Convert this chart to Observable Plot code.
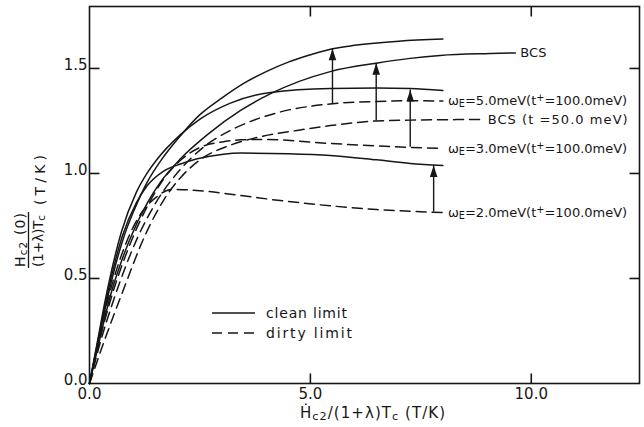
<!DOCTYPE html>
<html><head><meta charset="utf-8">
<script src="https://cdn.jsdelivr.net/npm/d3@7"></script>
<script src="https://cdn.jsdelivr.net/npm/@observablehq/plot@0.6"></script>
<style>
body{margin:0;background:#fff}
#chart{position:relative;width:644px;height:427px}
</style>
</head><body><div id="chart"></div>
<script>
// ---- data ----
const clean5X = [0,0.2,0.4,0.78,1.0,1.31,1.61,2.06,2.5,3.0,3.5,4.0,4.5,5.0,5.5,6.0,7.0,8.0];
const clean5Y = [0,0.2,0.4,0.70,0.82,0.96,1.06,1.18,1.28,1.36,1.43,1.485,1.53,1.565,1.594,1.61,1.63,1.64];
const cleanBCSX = [0,0.22,0.45,0.9,1.31,1.61,2.06,2.67,3.42,4.1,5.45,6.49,7.26,7.94,9.07,9.64];
const cleanBCSY = [0,0.2,0.4,0.68,0.86,0.96,1.07,1.185,1.30,1.38,1.485,1.525,1.548,1.562,1.571,1.574];
const clean3X = [0,0.18,0.36,0.72,1.06,1.3,1.54,2.06,2.51,3.19,4.1,5.45,6.5,7.26,8.0];
const clean3Y = [0,0.2,0.4,0.72,0.91,1.0,1.07,1.185,1.26,1.335,1.386,1.405,1.407,1.405,1.395];
const clean2X = [0,0.19,0.38,0.74,1.06,1.3,1.67,2.06,2.44,3.03,3.42,4.5,5.45,6.5,7.26,8.0];
const clean2Y = [0,0.2,0.4,0.70,0.86,0.94,1.01,1.045,1.07,1.092,1.097,1.094,1.086,1.065,1.048,1.038];
const dirty5X = [0,0.25,0.55,1.1,1.5,2.06,2.58,3.19,3.8,4.32,5.5,6.5,7.26,8.0];
const dirty5Y = [0,0.2,0.4,0.70,0.86,1.02,1.125,1.205,1.26,1.293,1.332,1.343,1.346,1.345];
const dirtyBCSX = [0,0.33,0.72,1.29,1.67,2.06,2.47,3.19,3.94,4.7,5.45,6.49,7.26,8.9];
const dirtyBCSY = [0,0.2,0.42,0.72,0.87,0.98,1.06,1.135,1.178,1.205,1.228,1.25,1.254,1.257];
const dirty3X = [0,0.22,0.48,0.95,1.3,1.7,2.1,2.51,3.0,3.42,3.94,5.45,7.26,8.0];
const dirty3Y = [0,0.2,0.4,0.68,0.84,0.98,1.07,1.125,1.15,1.16,1.162,1.143,1.124,1.119];
const dirty2X = [0,0.2,0.42,0.85,1.2,1.5,1.86,2.5,3.42,4.32,5.5,6.5,7.26,8.0];
const dirty2Y = [0,0.2,0.4,0.68,0.82,0.885,0.924,0.918,0.895,0.871,0.845,0.828,0.82,0.814];

const arrowX    = [5.5, 6.49, 7.26, 7.79];
const arrowFrom = [1.332, 1.25, 1.125, 0.816];
const arrowTo   = [1.594, 1.525, 1.398, 1.038];

const xTicks = [0, 5, 10];
const xTickLabels = ["0.0", "5.0", "10.0"];
const yTicks = [0, 0.5, 1.0, 1.5];
const yTickLabels = ["0.0", "0.5", "1.0", "1.5"];

const series = [
  {name: "clean5",   type: "clean", x: clean5X,   y: clean5Y,   label: null},
  {name: "cleanBCS", type: "clean", x: cleanBCSX, y: cleanBCSY, label: "BCS"},
  {name: "clean3",   type: "clean", x: clean3X,   y: clean3Y,   label: null},
  {name: "clean2",   type: "clean", x: clean2X,   y: clean2Y,   label: null},
  {name: "dirty5",   type: "dirty", x: dirty5X,   y: dirty5Y,   label: "ω_E=5.0meV(t^+=100.0meV)"},
  {name: "dirtyBCS", type: "dirty", x: dirtyBCSX, y: dirtyBCSY, label: "BCS (t =50.0 meV)"},
  {name: "dirty3",   type: "dirty", x: dirty3X,   y: dirty3Y,   label: "ω_E=3.0meV(t^+=100.0meV)"},
  {name: "dirty2",   type: "dirty", x: dirty2X,   y: dirty2Y,   label: "ω_E=2.0meV(t^+=100.0meV)"}
];

const rows = series.flatMap(s => s.x.map((x, i) => ({series: s.name, type: s.type, x, y: s.y[i]})));
const ends = series.filter(s => s.label).map(s => ({x: s.x[s.x.length - 1], y: s.y[s.y.length - 1], label: s.label}));
const arrows = arrowX.map((x, i) => ({x, from: arrowFrom[i], to: arrowTo[i]}));
const tickRowsX = xTicks.slice(1).map(x => ({x}));
const tickRowsY = yTicks.slice(1).map(y => ({y}));

const ink = "#161616";
const W = 644, H = 427, mL = 89, mR = 5, mT = 6, mB = 44, tickLen = 10;
const xDomain = [0, 12.45], yDomain = [0, 1.795];
// tick length expressed in data units of each scale
const xTickD = tickLen * (xDomain[1] - xDomain[0]) / (W - mL - mR);
const yTickD = tickLen * (yDomain[1] - yDomain[0]) / (H - mT - mB);
const arrowHead = {draw(ctx) { ctx.moveTo(0, 0); ctx.lineTo(-3.8, 11.5); ctx.lineTo(3.8, 11.5); ctx.closePath(); }};

const svg = Plot.plot({
  width: W, height: H,
  marginLeft: mL, marginRight: mR, marginTop: mT, marginBottom: mB,
  x: {domain: xDomain},
  y: {domain: yDomain},
  style: {fontFamily: "DejaVu Sans, sans-serif", fontSize: "15px", color: ink, background: "#fff"},
  marks: [
    Plot.frame({stroke: ink, strokeWidth: 1.6, fill: "none"}),
    // tick labels
    Plot.axisX(xTicks, {anchor: "bottom", tickSize: 0, tickPadding: 5, tickFormat: d => xTickLabels[xTicks.indexOf(d)], label: null}),
    Plot.axisY(yTicks, {anchor: "left", tickSize: 0, tickPadding: 2, dy: -3, tickFormat: d => yTickLabels[yTicks.indexOf(d)], label: null}),
    // inward ticks on all four sides
    Plot.link(tickRowsX, {x1: "x", x2: "x", y1: () => yDomain[0], y2: () => yDomain[0] + yTickD, stroke: ink, strokeWidth: 1.6}),
    Plot.link(tickRowsX, {x1: "x", x2: "x", y1: () => yDomain[1] - yTickD, y2: () => yDomain[1], stroke: ink, strokeWidth: 1.6}),
    Plot.link(tickRowsY, {y1: "y", y2: "y", x1: () => xDomain[0], x2: () => xDomain[0] + xTickD, stroke: ink, strokeWidth: 1.6}),
    Plot.link(tickRowsY, {y1: "y", y2: "y", x1: () => xDomain[1] - xTickD, x2: () => xDomain[1], stroke: ink, strokeWidth: 1.6}),
    Plot.line(rows.filter(d => d.type === "clean"), {x: "x", y: "y", z: "series", stroke: ink, strokeWidth: 1.5, curve: "monotone-x"}),
    Plot.line(rows.filter(d => d.type === "dirty"), {x: "x", y: "y", z: "series", stroke: ink, strokeWidth: 1.5, curve: "monotone-x", strokeDasharray: "10,6"}),
    Plot.ruleX(arrows, {x: "x", y1: "from", y2: "to", stroke: ink, strokeWidth: 1.4}),
    Plot.dot(arrows, {x: "x", y: "to", symbol: arrowHead, fill: ink, stroke: null, r: 4}),
    Plot.text(ends, {x: "x", y: "y", text: "label", textAnchor: "start", dx: 5, fontSize: 13, fill: ink})
  ]
});

// rich text: _x subscript, ^x superscript
function richify(el) {
  const s = el.textContent;
  if (!/[_^]/.test(s)) return;
  const sel = d3.select(el);
  sel.text(null);
  const re = /([_^])(\{[^}]*\}|.)/g;
  let last = 0, m;
  while ((m = re.exec(s))) {
    if (m.index > last) sel.append("tspan").text(s.slice(last, m.index));
    let t = m[2]; if (t[0] === "{") t = t.slice(1, -1);
    sel.append("tspan").attr("baseline-shift", m[1] === "_" ? "-0.22em" : "0.4em").style("font-size", "75%").text(t);
    last = re.lastIndex;
  }
  if (last < s.length) sel.append("tspan").text(s.slice(last));
}
const root = d3.select(svg);
root.selectAll("text").each(function() {
  if (this.textContent.startsWith("BCS (")) d3.select(this).attr("textLength", 140).attr("lengthAdjust", "spacing");
  richify(this);
});

// y-axis label (fraction, rotated)
const yl = root.append("g").attr("fill", ink).attr("text-anchor", "middle").style("font-size", "14px");
yl.append("text").attr("transform", "translate(25,240) rotate(-90)").attr("textLength", 54).attr("lengthAdjust", "spacing")
  .text("H_{c2} (0)").each(function(){ richify(this); });
yl.append("line").attr("x1", 28.5).attr("x2", 28.5).attr("y1", 212).attr("y2", 268).attr("stroke", ink).attr("stroke-width", 1.3);
yl.append("text").attr("transform", "translate(43,241) rotate(-90)").attr("textLength", 52).attr("lengthAdjust", "spacing")
  .text("(1+λ)T_c").each(function(){ richify(this); });
yl.append("text").attr("transform", "translate(45,180) rotate(-90)").attr("textLength", 50).attr("lengthAdjust", "spacing").text("(T/K)");

// x-axis label
root.append("text").attr("x", 300).attr("y", 418).attr("text-anchor", "start").attr("fill", ink)
  .attr("textLength", 145).attr("lengthAdjust", "spacing")
  .style("font-size", "15px").text("Ḣ_{c2}/(1+λ)T_c (T/K)").each(function(){ richify(this); });

// legend
const lg = root.append("g").attr("fill", ink).attr("text-anchor", "start").style("font-size", "14px");
[["clean limit", null, 313, 81], ["dirty limit", "10,6", 333, 86]].forEach(([t, dash, y, len]) => {
  lg.append("line").attr("x1", 212).attr("x2", 255).attr("y1", y).attr("y2", y).attr("stroke", ink).attr("stroke-width", 1.5).attr("stroke-dasharray", dash);
  lg.append("text").attr("x", 266).attr("y", y).attr("dy", "0.35em").attr("textLength", len).attr("lengthAdjust", "spacing").text(t);
});

document.getElementById("chart").appendChild(svg);
</script>
</body></html>
